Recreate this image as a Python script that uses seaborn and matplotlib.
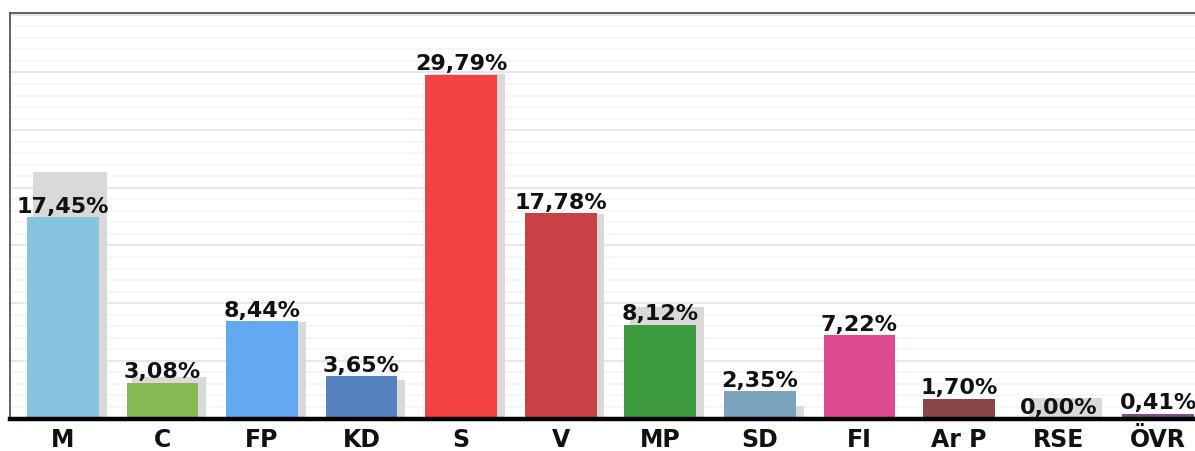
import numpy as np
import pandas as pd
import matplotlib
matplotlib.use("Agg")
import matplotlib.pyplot as plt
import seaborn as sns

# =============================
# Data
# =============================
parties = ["M", "C", "FP", "KD", "S", "V", "MP", "SD", "FI", "Ar P", "RSE", "ÖVR"]
votes = [17.45, 3.08, 8.44, 3.65, 29.79, 17.78, 8.12, 2.35, 7.22, 1.70, 0.00, 0.41]
previous = [21.4, 3.6, 8.4, 3.35, 29.9, 17.7, 9.7, 1.1, 0.0, 0.0, 1.8, 0.0]
colors = ["#86C4E2", "#86B853", "#62A9F2", "#5683BF", "#F24242", "#C84245",
          "#3E9A3F", "#7CA3BD", "#DC4A8F", "#8B4748", "#B0B0B0", "#7B4E8E"]

df = pd.DataFrame({"party": parties, "votes": votes, "previous": previous})

# =============================
# Figure
# =============================
sns.set_theme(style="white")
plt.rcParams["font.family"] = ["DejaVu Sans"]

fig = plt.figure(figsize=(11.95, 4.51), dpi=100)
ax = fig.add_axes([10 / 1195, 32.5 / 451, 1185 / 1195, 406 / 451])

# grid lines
for v in np.arange(1, 36, 1):
    c = "#E3E3E3" if v % 5 == 0 else "#F5F5F5"
    ax.axhline(v, color=c, lw=1.2, zorder=0)

# previous election (grey shadow bars, shifted right)
sns.barplot(data=df, x="party", y="previous", color="#D9D9D9", width=0.74,
            saturation=1, linewidth=0, ax=ax, zorder=1)
for p in ax.patches:
    p.set_x(p.get_x() + 0.07)

# current result
sns.barplot(data=df, x="party", y="votes", hue="party", palette=colors,
            legend=False, width=0.72, saturation=1, linewidth=0, ax=ax, zorder=2)

for i, v in enumerate(votes):
    ax.text(i, v + 0.05, f"{v:.2f}%".replace(".", ","), ha="center", va="bottom",
            fontsize=16, fontweight="bold", color="#111111", zorder=3)

ax.set_xlim(-0.53, 11.37)
ax.set_ylim(0, 35.2)
ax.set_xlabel("")
ax.set_ylabel("")
ax.set_yticks([])
ax.tick_params(axis="x", length=0, pad=7, labelsize=17)
for lbl in ax.get_xticklabels():
    lbl.set_fontweight("bold")
    lbl.set_color("#111111")

ax.spines["right"].set_visible(False)
ax.spines["bottom"].set_color("black")
ax.spines["bottom"].set_linewidth(3.2)
ax.spines["top"].set_color("#555555")
ax.spines["top"].set_linewidth(1.3)
ax.spines["left"].set_color("#555555")
ax.spines["left"].set_linewidth(1.3)

fig.savefig("out.png", dpi=100)
